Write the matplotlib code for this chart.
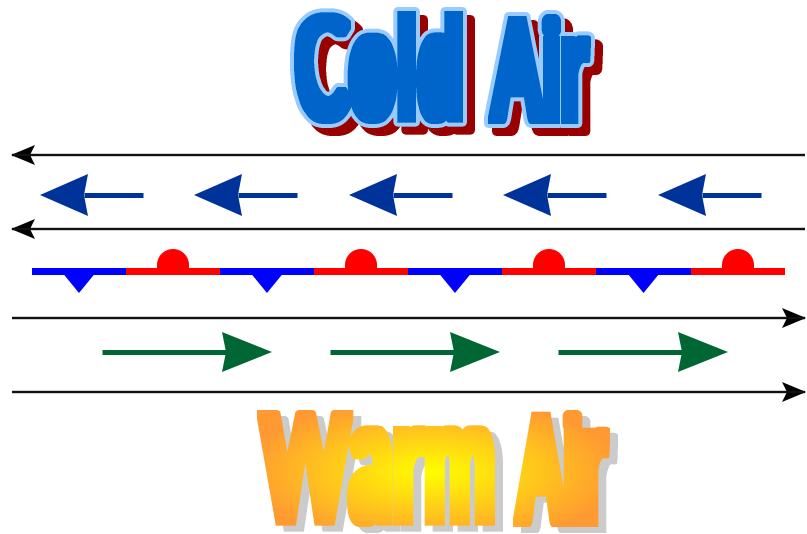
import numpy as np
import matplotlib
matplotlib.use('Agg')
import matplotlib.pyplot as plt
from matplotlib.path import Path
from matplotlib.patches import Polygon, Rectangle
from matplotlib.textpath import TextPath
from matplotlib.font_manager import FontProperties

# figure is drawn in pixel units (807 x 534)
W, H = 807, 534
PX = 72 / 100  # points per pixel at dpi 100
SS = 3         # supersampling for the title lettering

# long black flow lines: y position and direction (-1 = left, +1 = right)
flow_y = [155, 229, 318, 392]
flow_dir = [-1, -1, 1, 1]

# cold-air wind arrows (pointing left): tip x positions
cold_tips = [40, 194, 349, 503, 658]
cold_y = 195
# warm-air wind arrows (pointing right): tail x positions
warm_tails = [102, 330, 558]
warm_y = 352

# stationary front segments
front_edges = [32, 126, 220, 314, 408, 502, 596, 691, 785]
front_kind = ['cold', 'warm', 'cold', 'warm', 'cold', 'warm', 'cold', 'warm']
front_y = 271

# titles: words and their outer boxes (x0, y0, x1, y1)
cold_words = ['Cold', 'Air']
cold_boxes = [(290, 7, 467, 128), (484, 10, 595, 128)]
warm_words = ['Warm', 'Air']
warm_boxes = [(257, 410, 495, 527), (513, 410, 610, 527)]

BLUE_ARROW = '#003399'
GREEN_ARROW = '#006633'
FONT = FontProperties(family=['Lato', 'DejaVu Sans'], weight='black')


def word_path(text, box, xh_frac):
    tp = TextPath((0, 0), text, size=100, prop=FONT)
    cap = TextPath((0, 0), 'H', size=100, prop=FONT).get_extents().y1
    xh = TextPath((0, 0), 'x', size=100, prop=FONT).get_extents().y1
    verts = tp.vertices.copy()
    codes = tp.codes
    y = verts[:, 1]
    # push x-height up, Impact style
    verts[:, 1] = np.where(y <= xh, y / xh * xh_frac * cap,
                           xh_frac * cap + (y - xh) / (cap - xh) * (1 - xh_frac) * cap)
    m = codes != Path.CLOSEPOLY
    x0, y0 = verts[m].min(0)
    x1, y1 = verts[m].max(0)
    X0, Y0, X1, Y1 = box
    verts[:, 0] = X0 + (verts[:, 0] - x0) / (x1 - x0) * (X1 - X0)
    verts[:, 1] = Y1 - (verts[:, 1] - y0) / (y1 - y0) * (Y1 - Y0)
    return Path(verts, codes)


def raster(paths, region):
    gx0, gy0, gx1, gy1 = region
    xs = gx0 + (np.arange((gx1 - gx0) * SS) + 0.5) / SS
    ys = gy0 + (np.arange((gy1 - gy0) * SS) + 0.5) / SS
    XX, YY = np.meshgrid(xs, ys)
    pts = np.column_stack([XX.ravel(), YY.ravel()])
    mask = np.zeros(XX.size, bool)
    for p in paths:
        mask |= p.contains_points(pts)
    return mask.reshape(XX.shape), XX, YY


def shift(mask, dx, dy):
    out = np.zeros_like(mask)
    h, w = mask.shape
    out[max(dy, 0):h + min(dy, 0), max(dx, 0):w + min(dx, 0)] = \
        mask[max(-dy, 0):h - max(dy, 0), max(-dx, 0):w - max(dx, 0)]
    return out


def dilate(mask, r, square=False):
    rr = int(round(r * SS))
    out = mask.copy()
    if square:
        for dx in range(-rr, rr + 1):
            out |= shift(mask, dx, 0)
        tmp = out.copy()
        for dy in range(-rr, rr + 1):
            out |= shift(tmp, 0, dy)
        return out
    for dy in range(-rr, rr + 1):
        for dx in range(-rr, rr + 1):
            if dx * dx + dy * dy <= rr * rr and (dx or dy):
                out |= shift(mask, dx, dy)
    return out


def compose(layers, shape):
    # layers: list of (mask, rgb array or tuple), painted in order
    rgb = np.zeros(shape + (3,))
    a = np.zeros(shape)
    for mask, col in layers:
        col = np.broadcast_to(np.asarray(col, float), shape + (3,))
        rgb[mask] = col[mask]
        a[mask] = 1.0
    h, w = shape[0] // SS, shape[1] // SS
    A = a.reshape(h, SS, w, SS).mean((1, 3))
    C = (rgb * a[..., None]).reshape(h, SS, w, SS, 3).sum((1, 3))
    C = C / np.maximum(a.reshape(h, SS, w, SS).sum((1, 3)), 1e-9)[..., None]
    return np.dstack([C, A])


def hexrgb(h):
    return tuple(int(h[i:i + 2], 16) / 255 for i in (1, 3, 5))


fig = plt.figure(figsize=(W / 100, H / 100), dpi=100)
ax = fig.add_axes([0, 0, 1, 1])
ax.axis('off')

# black flow lines
for y, d in zip(flow_y, flow_dir):
    ax.plot([12, 805], [y, y], color='#111111', lw=2.4 * PX, solid_capstyle='butt')
    tip = 11 if d < 0 else 806
    back = tip - d * 24
    notch = tip - d * 19
    ax.add_patch(Polygon([(tip, y), (back, y - 10), (notch, y), (back, y + 10)],
                         closed=True, color='black', lw=0))

# cold wind arrows
for t in cold_tips:
    ax.plot([t + 44, t + 103], [cold_y, cold_y], color=BLUE_ARROW, lw=5 * PX,
            solid_capstyle='butt')
    ax.add_patch(Polygon([(t, cold_y), (t + 48, cold_y - 21), (t + 44, cold_y),
                          (t + 48, cold_y + 21)], closed=True, color=BLUE_ARROW, lw=0))

# warm wind arrows
for s in warm_tails:
    tip = s + 170
    ax.plot([s, tip - 46], [warm_y, warm_y], color=GREEN_ARROW, lw=5 * PX,
            solid_capstyle='butt')
    ax.add_patch(Polygon([(tip, warm_y), (tip - 50, warm_y - 20), (tip - 46, warm_y),
                          (tip - 50, warm_y + 20)], closed=True, color=GREEN_ARROW, lw=0))

# stationary front
for a, b, kind in zip(front_edges[:-1], front_edges[1:], front_kind):
    c = '#0000ff' if kind == 'cold' else '#ff0000'
    ax.add_patch(Rectangle((a, front_y - 3.5), b - a, 7, color=c, lw=0))
    mid = (a + b) / 2
    if kind == 'cold':
        ax.add_patch(Polygon([(mid - 18, front_y), (mid, front_y + 22), (mid + 18, front_y)],
                             closed=True, color=c, lw=0))
    else:
        ang = np.linspace(0, np.pi, 40)
        pts = np.column_stack([mid + 16 * np.cos(ang), front_y - 6 - 16 * np.sin(ang)])
        pts = np.vstack([[mid + 16, front_y], pts, [mid - 16, front_y]])
        ax.add_patch(Polygon(pts, closed=True, color=c, lw=0))

# "Cold Air": blue fill, light blue outline, dark red drop shadow
d_fill, d_out = 3.7, 4
grow = d_fill + d_out
paths = [word_path(w, (b[0] + grow, b[1] + grow, b[2] - grow, b[3] - grow), 0.80)
         for w, b in zip(cold_words, cold_boxes)]
region = (275, 0, 620, 145)
base, _, _ = raster(paths, region)
fill = dilate(base, d_fill, square=True)
outl = dilate(fill, d_out)
shad = shift(outl, 8 * SS, 8 * SS)
img = compose([(shad, hexrgb('#990000')), (outl, hexrgb('#99ccff')),
               (fill, hexrgb('#0066cc'))], base.shape)
ax.imshow(img, extent=(region[0], region[2], region[3], region[1]), origin='upper',
          aspect='auto', interpolation='none', zorder=5)

# "Warm Air": orange-yellow radial gradient, grey drop shadow
d_warm = 4.3
paths = [word_path(w, (b[0] + d_warm, b[1] + d_warm, b[2] - d_warm, b[3] - d_warm), 0.85)
         for w, b in zip(warm_words, warm_boxes)]
region = (245, 400, 630, 534)
base, XX, YY = raster(paths, region)
fill = dilate(base, d_warm, square=True)
shad = shift(fill, 8 * SS, 6 * SS)
r = np.clip(np.sqrt(((XX - 432) / 190) ** 2 + ((YY - 472) / 75) ** 2), 0, 1)[..., None]
grad = np.array(hexrgb('#ffff00')) * (1 - r) + np.array(hexrgb('#ff9933')) * r
img = compose([(shad, hexrgb('#cccccc')), (fill, grad)], base.shape)
ax.imshow(img, extent=(region[0], region[2], region[3], region[1]), origin='upper',
          aspect='auto', interpolation='none', zorder=5)

ax.set_xlim(0, W)
ax.set_ylim(H, 0)

plt.savefig('out.png', dpi=100)
plt.close(fig)
